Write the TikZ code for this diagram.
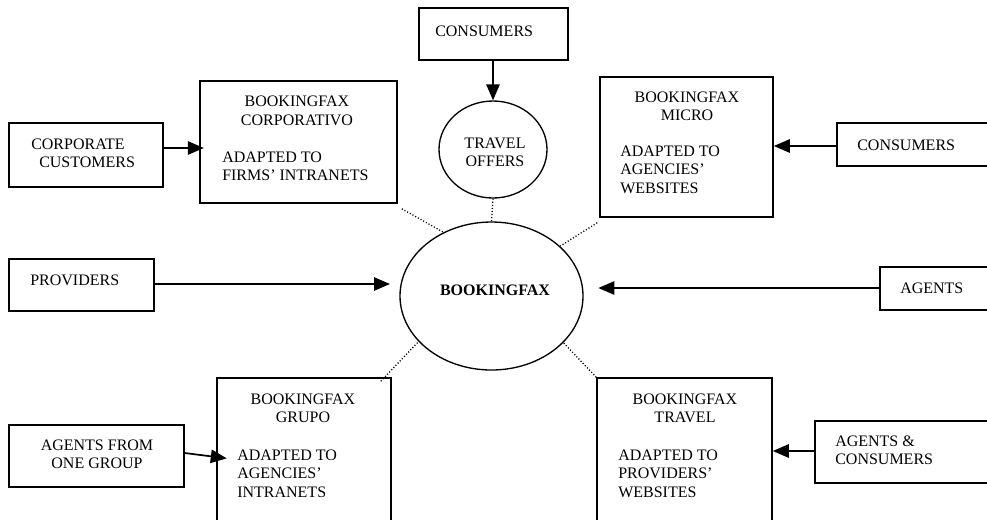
\documentclass[tikz,border=0pt]{standalone}
\usepackage{fontspec}
\setmainfont{Liberation Serif}
\usetikzlibrary{arrows.meta,fit,shapes.geometric}
\begin{document}
\begin{tikzpicture}[x=0.75pt,y=-0.75pt,
  box/.style={draw,line width=1.2pt,inner sep=0pt,fit={#1}},
  oval/.style={draw,ellipse,line width=1pt,inner sep=0pt},
  txt/.style={font=\fontsize{12}{13.8}\selectfont,inner sep=0pt},
  ltxt/.style={txt,anchor=west,align=left},
  ctxt/.style={txt,align=center},
  arr/.style={line width=1.3pt,-{Triangle[length=12pt,width=10pt]}},
  dots/.style={line width=1pt,dash pattern=on 0.8pt off 1.5pt}]
\useasboundingbox (0,0) rectangle (987,519);
\clip (0,0) rectangle (987,519);
% boxes
\node[box={(9,123) (163,187)}] (cc) {};
\node[box={(200,81) (397,203)}] (corpo) {};
\node[box={(419,8) (568,60)}] (ctop) {};
\node[box={(600,77) (773,217)}] (micro) {};
\node[box={(837,123) (1000,166)}] (cright) {};
\node[box={(9,259) (154,311)}] (prov) {};
\node[box={(880,267) (1000,310)}] (agents) {};
\node[box={(9,425) (184,487)}] (afg) {};
\node[box={(217,378) (391,530)}] (grupo) {};
\node[box={(597,378) (772,530)}] (travel) {};
\node[box={(815,421) (1000,483)}] (ac) {};
% ellipses
\node[oval,minimum width=0.75*108pt,minimum height=0.75*97pt] (offers) at (493,149.5) {};
\node[oval,minimum width=0.75*183pt,minimum height=0.75*148pt] (bf) at (491.5,296) {};
% texts
\node[ltxt] (tcc) at (31,153.5) {CORPORATE\\\hspace*{6pt}CUSTOMERS};
\node[ctxt] (tcorpo1) at (297,111) {BOOKINGFAX\\CORPORATIVO};
\node[ltxt] (tcorpo2) at (222,166) {ADAPTED TO\\FIRMS’ INTRANETS};
\node[ltxt] (tctop) at (435,31) {CONSUMERS};
\node[ctxt] (toffers) at (495,152) {TRAVEL\\OFFERS};
\node[ctxt] (tmicro1) at (687,106.5) {BOOKINGFAX\\MICRO};
\node[ltxt] (tmicro2) at (620,169.5) {ADAPTED TO\\AGENCIES’\\WEBSITES};
\node[ltxt] (tcright) at (857,145) {CONSUMERS};
\node[ltxt] (tprov) at (30,280) {PROVIDERS};
\node[ctxt,font=\fontsize{12}{13.8}\selectfont\bfseries] (tbf) at (495,290) {BOOKINGFAX};
\node[ltxt] (tagents) at (900,288) {AGENTS};
\node[ctxt] (tafg) at (97,454.5) {AGENTS FROM\\ONE GROUP};
\node[ctxt] (tgrupo1) at (303,408.5) {BOOKINGFAX\\GRUPO};
\node[ltxt] (tgrupo2) at (237,473.5) {ADAPTED TO\\AGENCIES’\\INTRANETS};
\node[ctxt] (ttravel1) at (685,408.5) {BOOKINGFAX\\TRAVEL};
\node[ltxt] (ttravel2) at (618,473.5) {ADAPTED TO\\PROVIDERS’\\WEBSITES};
\node[ltxt] (tac) at (835,450) {AGENTS \&\\CONSUMERS};
% arrows
\draw[arr,shorten >=-3.5pt] (cc.east |- 0,148) -- (corpo.west |- 0,148);
\draw[arr] (ctop.south -| offers.north) -- (offers.north);
\draw[arr,shorten >=7pt] (prov.east |- 0,284) -- (bf.west |- 0,284);
\draw[arr,shorten >=11pt] (agents.west |- 0,288) -- (bf.east |- 0,288);
\draw[arr] (cright.west |- 0,146) -- (micro.east |- 0,146);
\draw[arr,shorten >=-8pt] (afg.east |- 0,453) -- (grupo.west |- 0,457);
\draw[arr] (ac.west |- 0,451) -- (travel.east |- 0,451);
% dotted links
\draw[dots] (offers.south) -- (bf.north);
\draw[dots] ([shift={(4,5)}]corpo.south east) -- (bf.127);
\draw[dots] ([shift={(-2,5)}]micro.south west) -- (bf.36);
\draw[dots] ([shift={(-11,4)}]grupo.north east) -- (bf.212);
\draw[dots] (travel.north west) -- (bf.327);
\end{tikzpicture}
\end{document}
